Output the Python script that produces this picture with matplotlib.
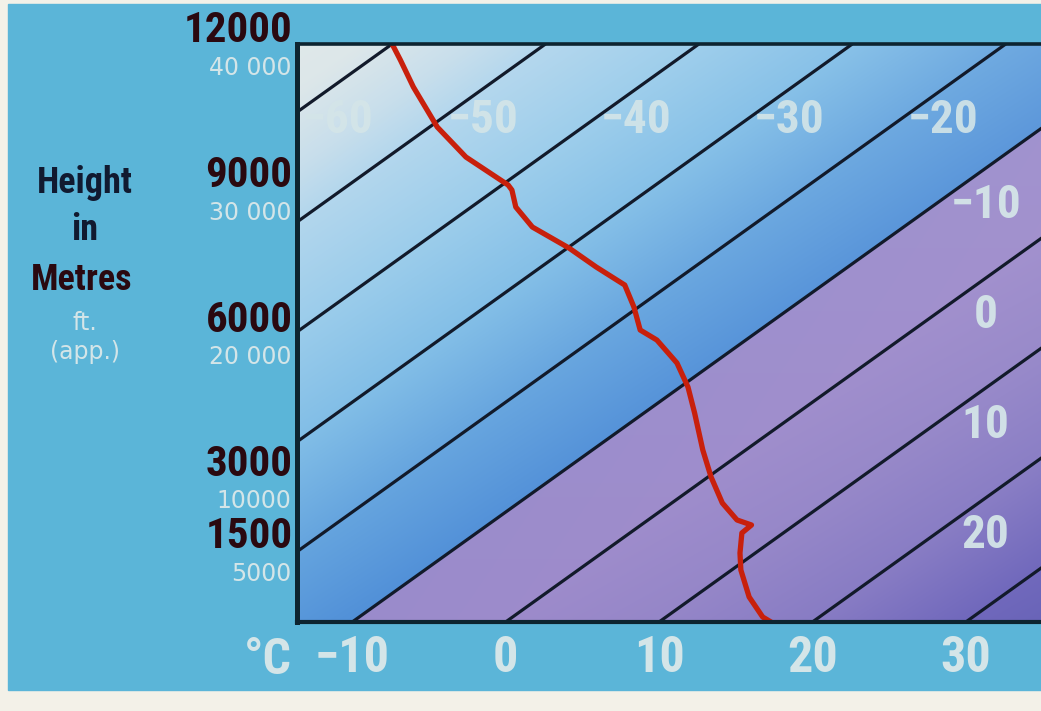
import matplotlib
matplotlib.use('Agg')
import matplotlib.pyplot as plt
import matplotlib.transforms as mtransforms
from matplotlib import font_manager
from matplotlib.colors import LinearSegmentedColormap
from matplotlib.patches import Rectangle
import numpy as np

# measured temperature profile: height (m) and temperature (deg C)
heights = [0, 104, 519, 1080, 1432, 1848, 2014, 2118, 2470, 3010, 3571, 4339,
           4879, 5377, 5854, 6062, 6539, 6996, 7370, 7764, 8200, 8615, 8968,
           9072, 9653, 10276, 11107, 11667, 12000]
temps = [17.3, 16.3, 13.6, 10.6, 9.0, 7.3, 7.2, 5.8, 3.3, 0.2, -2.8, -6.7,
         -9.5, -12.4, -15.8, -17.8, -20.3, -22.9, -26.4, -29.9, -34.2, -37.1,
         -38.9, -39.6, -44.9, -49.5, -54.7, -58.0, -60.0]

isotherms = list(range(-60, 40, 10))
top_labels = [-60, -50, -40, -30, -20]
side_labels = [-10, 0, 10, 20]
x_ticks = [-10, 0, 10, 20, 30]
metre_ticks = [12000, 9000, 6000, 3000, 1500]
feet_labels = ['40 000', '30 000', '20 000', '10000', '5000']

SKEW = 52.6 / 12000.0      # deg C of shift per metre
XLIM = (-13.6, 34.9)
HTOP = 12000


def pick_narrow():
    # the poster uses a very condensed display face; take the narrowest we have
    names = {f.name for f in font_manager.fontManager.ttflist}
    for p in ['Noto Sans ExtraCondensed', 'Liberation Sans Narrow',
              'Roboto Condensed', 'Noto Sans Condensed', 'Open Sans Condensed',
              'DejaVu Sans Condensed', 'Noto Sans SemiCondensed']:
        if p in names:
            return p
    for f in font_manager.fontManager.ttflist:
        if 'ondensed' in f.name or 'arrow' in f.name:
            return f.name
    return 'DejaVu Sans'


NARROW = [pick_narrow(), 'DejaVu Sans']
LIGHT = '#d4e5e8'
DARK = '#2a0910'

fig = plt.figure(figsize=(10.41, 7.11), dpi=100, facecolor='#f3f1e8')
fig.add_artist(Rectangle((8 / 1041, 21 / 711), 1033 / 1041, 686 / 711,
                         transform=fig.transFigure, color='#5bb5d8', zorder=-10))

ax = fig.add_axes([297 / 1041, 89 / 711, 1 - 297 / 1041, 578 / 711])
ax.set_xlim(*XLIM)
ax.set_ylim(0, HTOP)

# background shading by temperature
nodes = [(-80, '#e6ece6'), (-62, '#dae5e8'), (-55, '#c4dcea'), (-50, '#aed4ec'),
         (-40, '#96caea'), (-30, '#7ebce6'), (-20, '#63a3de'), (-10.05, '#5190d8'),
         (-9.95, '#9a8bcb'), (0, '#9d8bcb'), (10, '#9586c8'), (20, '#887cc4'),
         (30, '#7068bc'), (40, '#6260b4'), (50, '#5a5aae')]
lo, hi = nodes[0][0], nodes[-1][0]
cmap = LinearSegmentedColormap.from_list(
    'bands', [((v - lo) / (hi - lo), c) for v, c in nodes], N=2048)
xs = np.linspace(XLIM[0], XLIM[1], 1000)
hs = np.linspace(0, HTOP, 600)
X, H = np.meshgrid(xs, hs)
T = X - SKEW * H
rgb = cmap((T - lo) / (hi - lo))
rgb[..., :3] += (1 - rgb[..., :3]) * (0.08 * H / HTOP)[..., None]
ax.imshow(rgb, extent=(XLIM[0], XLIM[1], 0, HTOP), origin='lower',
          aspect='auto', interpolation='bilinear', zorder=0)

# isotherms
hline = np.array([0, HTOP])
for t in isotherms:
    ax.plot(t + SKEW * hline, hline, color='#121a2a', lw=2.3, zorder=2,
            solid_capstyle='butt')

# temperature profile
hh = np.array(heights)
ax.plot(np.array(temps) + SKEW * hh, hh, color='#c8200c', lw=3.8, zorder=4)

# isotherm labels along the top
px = 15.35  # pixels per deg C on the x axis
h_lab = 10420
for t in top_labels:
    x = max(t + SKEW * h_lab + 8 / px, XLIM[0] + 6 / px)
    ax.text(x, h_lab, '\u2212%d' % abs(t), ha='left', va='center',
            fontsize=34, fontweight='bold', family=NARROW, color=LIGHT,
            alpha=0.9, zorder=3)

# isotherm labels on the right
x_side = 31.3
for t in side_labels:
    h_line = (x_side - t) / SKEW
    s = '\u2212%d' % abs(t) if t < 0 else '%d' % t
    ax.text(x_side, h_line - 37 * HTOP / 578, s, ha='center', va='center',
            fontsize=34, fontweight='bold', family=NARROW, color=LIGHT,
            alpha=0.95, zorder=3)

# axes frame
for side in ['left', 'top', 'bottom']:
    ax.spines[side].set_color('#0d2430')
    ax.spines[side].set_zorder(5)
ax.spines['left'].set_linewidth(3.6)
ax.spines['top'].set_linewidth(2.6)
ax.spines['bottom'].set_linewidth(3.0)
ax.spines['right'].set_visible(False)

ax.set_xticks(x_ticks)
ax.set_xticklabels(['\u2212%d' % abs(v) if v < 0 else '%d' % v for v in x_ticks],
                   fontsize=36, fontweight='bold', family=NARROW, color=LIGHT)
ax.tick_params(axis='x', length=0, pad=9)
ax.set_yticks([])

# height labels in metres and feet
ytr = ax.get_yaxis_transform()
up = mtransforms.offset_copy(ytr, fig=fig, y=13, units='dots')
down = mtransforms.offset_copy(ytr, fig=fig, y=-24, units='dots')
for h, ft in zip(metre_ticks, feet_labels):
    ax.text(-0.006, h, str(h), transform=up, ha='right', va='center',
            fontsize=31, fontweight='heavy', family=NARROW, color=DARK,
            clip_on=False)
    ax.text(-0.008, h, ft, transform=down, ha='right', va='center',
            fontsize=17, family='DejaVu Sans', color=LIGHT, clip_on=False)


def ftext(x, y, s, **kw):
    fig.text(x / 1041, 1 - y / 711, s, ha='center', va='center', **kw)


ftext(85, 183, 'Height', fontsize=26, fontweight='bold', family=NARROW, color='#111a30')
ftext(85, 230, 'in', fontsize=26, fontweight='bold', family=NARROW, color='#111a30')
ftext(82, 280, 'Metres', fontsize=26, fontweight='heavy', family=NARROW, color=DARK)
ftext(85, 323, 'ft.', fontsize=17, family='DejaVu Sans', color=LIGHT)
ftext(85, 352, '(app.)', fontsize=17, family='DejaVu Sans', color=LIGHT)
ftext(268, 660, '\u00b0C', fontsize=36, fontweight='bold', family=NARROW, color=LIGHT)

fig.savefig('out.png', dpi=100, facecolor=fig.get_facecolor())
